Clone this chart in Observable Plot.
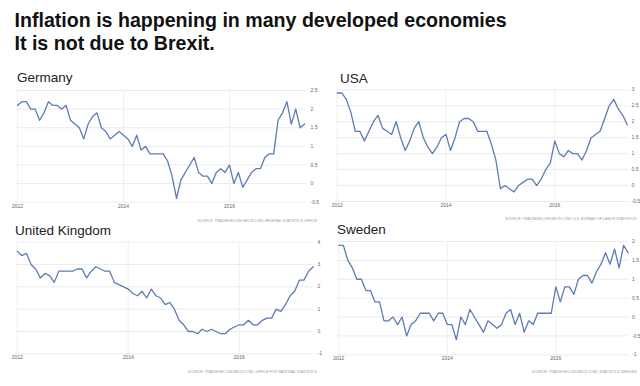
<!DOCTYPE html>
<html>
<head>
<meta charset="utf-8">
<script src="https://cdn.jsdelivr.net/npm/d3@7"></script>
<script src="https://cdn.jsdelivr.net/npm/@observablehq/plot@0.6"></script>
<style>
  html, body { margin: 0; padding: 0; background: #fff; }
  #root { position: relative; width: 640px; height: 386px; overflow: hidden; background: #fff;
          font-family: "Liberation Sans", Arial, sans-serif; }
  .main { position: absolute; left: 14.5px; font-weight: bold; font-size: 19.6px; color: #111; white-space: nowrap; line-height: 1; }
  .ptitle { position: absolute; font-size: 13.5px; color: #222; white-space: nowrap; line-height: 1; }
  .panel { position: absolute; }
</style>
</head>
<body>
<div id="root"></div>
<script>
// ---- data (monthly CPI YoY %, Jan 2012 onwards) ----
const startYear = 2012;
const yearTicks = [2012, 2014, 2016];

const germany = [2.1,2.2,2.2,2.0,2.0,1.7,1.9,2.2,2.1,2.1,2.0,2.1,
                 1.7,1.6,1.5,1.2,1.6,1.8,1.9,1.5,1.4,1.2,1.3,1.4,
                 1.3,1.2,1.0,1.3,0.9,1.0,0.8,0.8,0.8,0.8,0.6,0.2,
                 -0.4,0.1,0.3,0.5,0.7,0.3,0.2,0.2,0.0,0.3,0.4,0.3,
                 0.5,0.0,0.3,-0.1,0.1,0.3,0.4,0.4,0.7,0.8,0.8,1.7,
                 1.9,2.2,1.6,2.0,1.5,1.6];
const usa = [2.9,2.9,2.7,2.3,1.7,1.7,1.4,1.7,2.0,2.2,1.8,1.7,
             1.6,2.0,1.5,1.1,1.4,1.8,2.0,1.5,1.2,1.0,1.2,1.5,
             1.6,1.1,1.5,2.0,2.1,2.1,2.0,1.7,1.7,1.7,1.3,0.8,
             -0.1,0.0,-0.1,-0.2,0.0,0.1,0.2,0.2,0.0,0.2,0.5,0.7,
             1.4,1.0,0.9,1.1,1.0,1.0,0.8,1.1,1.5,1.6,1.7,2.1,
             2.5,2.7,2.4,2.2,1.9];
const uk = [3.6,3.4,3.5,3.0,2.8,2.4,2.6,2.5,2.2,2.7,2.7,2.7,
            2.7,2.8,2.8,2.4,2.7,2.9,2.8,2.7,2.7,2.2,2.1,2.0,
            1.9,1.7,1.6,1.8,1.5,1.9,1.6,1.5,1.2,1.3,1.0,0.5,
            0.3,0.0,0.0,-0.1,0.1,0.0,0.1,0.0,-0.1,-0.1,0.1,0.2,
            0.3,0.3,0.5,0.3,0.3,0.5,0.6,0.6,1.0,0.9,1.2,1.6,
            1.8,2.3,2.3,2.7,2.9];
const sweden = [1.9,1.9,1.5,1.3,1.0,1.0,0.7,0.7,0.4,0.4,-0.1,-0.1,
                0.0,-0.2,0.0,-0.5,-0.2,-0.1,0.1,0.1,0.1,-0.1,0.1,0.1,
                -0.2,-0.2,-0.6,0.0,-0.2,0.2,0.0,-0.2,-0.4,-0.1,-0.2,-0.3,
                -0.2,0.1,0.2,-0.2,0.1,-0.4,-0.1,-0.2,0.1,0.1,0.1,0.1,
                0.8,0.4,0.8,0.8,0.6,1.0,1.1,1.1,0.9,1.2,1.4,1.7,
                1.4,1.8,1.3,1.9,1.7];

const germanyTicks = [-0.5, 0, 0.5, 1, 1.5, 2, 2.5];
const usaTicks = [-0.5, 0, 0.5, 1, 1.5, 2, 2.5, 3];
const ukTicks = [-1, 0, 1, 2, 3, 4];
const swedenTicks = [-1, -0.5, 0, 0.5, 1, 1.5, 2];

const titleLines = ["Inflation is happening in many developed economies", "It is not due to Brexit."];
const names = ["Germany", "USA", "United Kingdom", "Sweden"];
const sources = [
  "SOURCE: TRADINGECONOMICS.COM | FEDERAL STATISTICS OFFICE",
  "SOURCE: TRADINGECONOMICS.COM | U.S. BUREAU OF LABOR STATISTICS",
  "SOURCE: TRADINGECONOMICS.COM | OFFICE FOR NATIONAL STATISTICS",
  "SOURCE: TRADINGECONOMICS.COM | STATISTICS SWEDEN"
];
const seriesList = [germany, usa, uk, sweden];
const tickList = [germanyTicks, usaTicks, ukTicks, swedenTicks];

// ---- layout (page pixel coordinates) ----
const layout = [
  {left: 0,   top: 62,  w: 320, h: 162, fx: [15, 306],  x2012: 17,    x2016: 229,   yTop: 90,    yBot: 201.7, labX: 310,   srcX: 317,   srcY: 221.5, tX: 17,  tY: 81.5},
  {left: 320, top: 62,  w: 320, h: 162, fx: [335, 628], x2012: 336.7, x2016: 554.3, yTop: 89.3,  yBot: 201,   labX: 631,   srcX: 636.5, srcY: 220,   tX: 340, tY: 82},
  {left: 0,   top: 224, w: 320, h: 162, fx: [15, 313],  x2012: 16.7,  x2016: 238.7, yTop: 241.7, yBot: 353.3, labX: 317,   srcX: 317,   srcY: 373,   tX: 15,  tY: 234},
  {left: 320, top: 224, w: 320, h: 162, fx: [337, 628], x2012: 338.3, x2016: 555.3, yTop: 241,   yBot: 354.3, labX: 631.5, srcX: 636.5, srcY: 373,   tX: 337, tY: 233.5}
];

const root = document.getElementById("root");

titleLines.forEach((t, i) => {
  const d = document.createElement("div");
  d.className = "main";
  d.textContent = t;
  d.style.top = (i === 0 ? 10.7 : 33.7) + "px";
  root.appendChild(d);
});

layout.forEach((L, k) => {
  const vals = seriesList[k];
  const ticks = tickList[k];
  const data = vals.map((v, i) => ({t: startYear + i / 12, v}));
  const ext = d3.extent(ticks);
  const chart = Plot.plot({
    width: L.w,
    height: L.h,
    marginLeft: L.fx[0] - L.left,
    marginRight: L.left + L.w - L.fx[1],
    marginTop: L.yTop - L.top,
    marginBottom: L.top + L.h - L.yBot,
    style: {background: "transparent", fontFamily: "'Liberation Sans', Arial, sans-serif", fontSize: "5px", color: "#777", overflow: "visible"},
    x: {type: "linear", domain: [2012, 2016], range: [L.x2012 - L.left, L.x2016 - L.left], label: null},
    y: {domain: [ext[0], ext[1]], range: [L.yBot - L.top, L.yTop - L.top], label: null},
    marks: [
      Plot.gridY(ticks, {stroke: "#e6e6e6", strokeOpacity: 1, strokeWidth: 0.8}),
      Plot.gridX(yearTicks, {stroke: "#ececec", strokeOpacity: 1, strokeWidth: 0.8}),
      Plot.axisY(ticks, {anchor: "right", label: null, tickSize: 0, tickPadding: L.labX - L.fx[1], tickFormat: d => String(d), fill: "#666"}),
      Plot.axisX(yearTicks, {anchor: "bottom", label: null, tickSize: 0, tickPadding: 2, tickFormat: d => String(d), fill: "#666"}),
      Plot.line(data, {x: "t", y: "v", stroke: "#5c7cb3", strokeWidth: 1.3, curve: "linear"})
    ]
  });
  chart.classList.add("panel");
  chart.style.left = L.left + "px";
  chart.style.top = L.top + "px";
  root.appendChild(chart);

  d3.select(chart).append("text")
    .attr("x", L.srcX - L.left)
    .attr("y", L.srcY - L.top)
    .attr("text-anchor", "end")
    .attr("font-size", 3.6)
    .attr("fill", "#9a9a9a")
    .text(sources[k]);

  const t = document.createElement("div");
  t.className = "ptitle";
  t.textContent = names[k];
  t.style.left = L.tX + "px";
  t.style.top = (L.tY - 10.5) + "px";
  root.appendChild(t);
});
</script>
</body>
</html>
